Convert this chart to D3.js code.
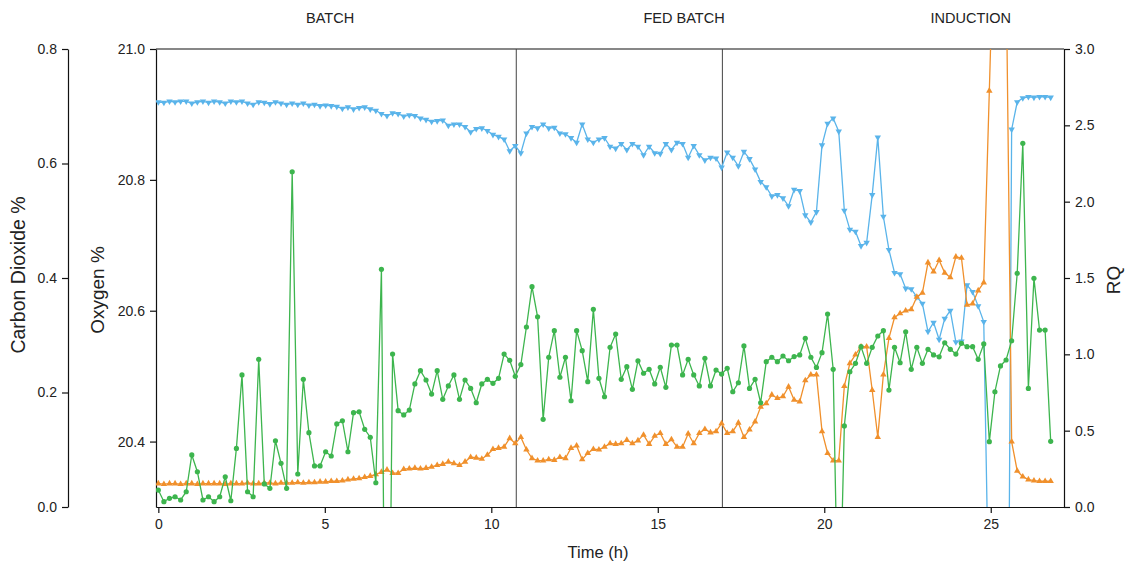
<!DOCTYPE html>
<html>
<head>
<meta charset="utf-8">
<script src="https://cdn.jsdelivr.net/npm/d3@7"></script>
<style>
  body { margin: 0; background: #fff; }
  text { font-family: "Liberation Sans", Arial, sans-serif; fill: #222; }
</style>
</head>
<body>
<svg id="chart" width="1129" height="575"></svg>
<script>
// Off-gas record of a fermentation run, sampled roughly every 10 minutes.
const SAMPLE_STEP_H = 0.1675;

const oxygen = [
  20.919, 20.918, 20.920, 20.919, 20.920, 20.920, 20.917, 20.919, 20.920, 20.918,
  20.920, 20.919, 20.917, 20.920, 20.919, 20.920, 20.917, 20.915, 20.919, 20.918,
  20.916, 20.919, 20.917, 20.915, 20.917, 20.915, 20.917, 20.914, 20.915, 20.913,
  20.914, 20.913, 20.912, 20.909, 20.911, 20.908, 20.910, 20.911, 20.908, 20.906,
  20.901, 20.898, 20.902, 20.901, 20.897, 20.899, 20.898, 20.894, 20.892, 20.889,
  20.890, 20.891, 20.883, 20.885, 20.885, 20.881, 20.873, 20.878, 20.879, 20.875,
  20.869, 20.866, 20.862, 20.844, 20.852, 20.841, 20.871, 20.881, 20.879, 20.885,
  20.879, 20.880, 20.871, 20.870, 20.864, 20.857, 20.885, 20.862, 20.857, 20.862,
  20.864, 20.851, 20.848, 20.855, 20.846, 20.855, 20.851, 20.838, 20.851, 20.841,
  20.840, 20.855, 20.846, 20.857, 20.855, 20.834, 20.852, 20.838, 20.830, 20.834,
  20.833, 20.819, 20.842, 20.834, 20.821, 20.843, 20.832, 20.816, 20.797, 20.789,
  20.775, 20.777, 20.772, 20.760, 20.785, 20.783, 20.746, 20.735, 20.751, 20.853,
  20.886, 20.894, 20.874, 20.753, 20.724, 20.721, 20.699, 20.704, 20.777, 20.865,
  20.744, 20.693, 20.658, 20.656, 20.634, 20.633, 20.621, 20.611, 20.568, 20.582,
  20.556, 20.588, 20.600, 20.552, 20.553, 20.639, 20.629, 20.607, 20.583, 20.100,
  19.500, 19.400, 19.470, 20.877, 20.919, 20.925, 20.927, 20.926, 20.927, 20.927, 20.926
];

const carbonDioxide = [
  0.041, 0.040, 0.041, 0.041, 0.040, 0.041, 0.041, 0.040, 0.041, 0.041,
  0.041, 0.041, 0.040, 0.041, 0.041, 0.041, 0.042, 0.041, 0.041, 0.042,
  0.042, 0.041, 0.042, 0.042, 0.042, 0.043, 0.042, 0.043, 0.043, 0.044,
  0.044, 0.045, 0.045, 0.046, 0.048, 0.049, 0.050, 0.052, 0.054, 0.057,
  0.061, 0.065, 0.059, 0.059, 0.066, 0.067, 0.068, 0.067, 0.068, 0.070,
  0.073, 0.075, 0.079, 0.076, 0.073, 0.079, 0.087, 0.086, 0.084, 0.091,
  0.101, 0.103, 0.105, 0.120, 0.111, 0.122, 0.100, 0.085, 0.081, 0.081,
  0.083, 0.082, 0.087, 0.085, 0.103, 0.107, 0.083, 0.094, 0.101, 0.100,
  0.105, 0.111, 0.110, 0.111, 0.117, 0.111, 0.116, 0.126, 0.110, 0.124,
  0.129, 0.110, 0.118, 0.105, 0.105, 0.128, 0.111, 0.129, 0.136, 0.130,
  0.132, 0.146, 0.129, 0.132, 0.147, 0.122, 0.135, 0.149, 0.175, 0.181,
  0.196, 0.190, 0.193, 0.210, 0.187, 0.184, 0.221, 0.231, 0.231, 0.132,
  0.094, 0.081, 0.081, 0.211, 0.251, 0.266, 0.280, 0.280, 0.204, 0.122,
  0.231, 0.295, 0.331, 0.338, 0.343, 0.345, 0.367, 0.374, 0.427, 0.411,
  0.431, 0.409, 0.401, 0.437, 0.435, 0.353, 0.355, 0.378, 0.392, 0.727,
  1.070, 1.300, 0.950, 0.114, 0.063, 0.053, 0.048, 0.046, 0.045, 0.045, 0.045
];

const rq = [
  0.111, 0.035, 0.057, 0.067, 0.046, 0.100, 0.341, 0.231, 0.046, 0.067,
  0.035, 0.067, 0.198, 0.041, 0.384, 0.865, 0.100, 0.067, 0.967, 0.151,
  0.122, 0.434, 0.286, 0.122, 2.196, 0.216, 0.836, 0.487, 0.269, 0.269,
  0.362, 0.334, 0.544, 0.565, 0.362, 0.618, 0.624, 0.509, 0.457, 0.159,
  1.557, -2.600, 1.002, 0.631, 0.603, 0.635, 0.806, 0.893, 0.832, 0.740,
  0.893, 0.705, 0.793, 0.865, 0.705, 0.832, 0.777, 0.683, 0.806, 0.836,
  0.810, 0.843, 1.002, 0.961, 0.856, 0.933, 1.179, 1.443, 1.246, 0.574,
  0.981, 1.155, 0.850, 0.981, 0.696, 1.155, 1.024, 0.821, 1.295, 0.843,
  0.722, 1.046, 1.133, 0.836, 0.919, 0.771, 0.958, 0.876, 0.902, 0.806,
  0.915, 0.784, 1.061, 1.061, 0.865, 0.967, 0.865, 0.793, 0.974, 0.793,
  0.897, 0.871, 0.909, 0.755, 0.814, 1.055, 0.777, 0.836, 0.683, 0.952,
  0.981, 0.952, 0.989, 0.958, 0.985, 0.996, 1.105, 0.981, 0.914, 1.011,
  1.264, 0.902, -1.000, 0.531, 0.886, 0.941, 1.050, 0.941, 1.046, 1.120,
  1.155, 0.766, 1.046, 0.945, 1.148, 0.902, 1.046, 0.941, 1.033, 0.996,
  0.984, 1.076, 1.033, 1.002, 1.072, 1.050, 1.050, 0.967, 1.068, 0.428,
  0.755, 0.924, 0.963, 1.089, 1.531, 2.382, 0.777, 1.498, 1.159, 1.159, 0.430
];

// Phase boundaries (h) and phase names
const phaseBounds = [10.75, 16.94];
const phaseNames = ["BATCH", "FED BATCH", "INDUCTION"];

// Tick values
const timeTicks = [0, 5, 10, 15, 20, 25];
const co2Ticks = [0.0, 0.2, 0.4, 0.6, 0.8];
const o2Ticks = [20.4, 20.6, 20.8, 21.0];
const rqTicks = [0.0, 0.5, 1.0, 1.5, 2.0, 2.5, 3.0];

const colors = { o2: "#5ab4ea", co2: "#f0902c", rq: "#3db54e" };

const svg = d3.select("#chart");
const plot = { left: 156, right: 1064, top: 49, bottom: 507 };
const co2AxisX = 68;

const times = oxygen.map((_, i) => i * SAMPLE_STEP_H);

const x = d3.scaleLinear().domain([-0.07, 27.2]).range([plot.left, plot.right]);
const yO2 = d3.scaleLinear().domain([20.3, 21.0]).range([plot.bottom, plot.top]);
const yCO2 = d3.scaleLinear().domain([0, 0.8]).range([plot.bottom, plot.top]);
const yRQ = d3.scaleLinear().domain([0, 3]).range([plot.bottom, plot.top]);

function styleAxis(g) {
  g.attr("font-family", "Liberation Sans, Arial, sans-serif").attr("font-size", 14);
  g.selectAll("path.domain").attr("stroke", "#111").attr("stroke-width", 1.2);
  g.selectAll(".tick line").attr("stroke", "#111").attr("stroke-width", 1.2);
  g.selectAll(".tick text").attr("fill", "#222");
}

// Axes
svg.append("g")
  .attr("transform", `translate(0,${plot.bottom})`)
  .call(d3.axisBottom(x).tickValues(timeTicks).tickFormat(d3.format("d")).tickSize(6).tickSizeOuter(0).tickPadding(6))
  .call(styleAxis);

svg.append("g")
  .attr("transform", `translate(${plot.left},0)`)
  .call(d3.axisLeft(yO2).tickValues(o2Ticks).tickFormat(d3.format(".1f")).tickSize(6).tickSizeOuter(0).tickPadding(5))
  .call(styleAxis);

svg.append("g")
  .attr("transform", `translate(${co2AxisX},0)`)
  .call(d3.axisLeft(yCO2).tickValues(co2Ticks).tickFormat(d3.format(".1f")).tickSize(6).tickSizeOuter(0).tickPadding(5))
  .call(styleAxis);

svg.append("g")
  .attr("transform", `translate(${plot.right},0)`)
  .call(d3.axisRight(yRQ).tickValues(rqTicks).tickFormat(d3.format(".1f")).tickSize(6).tickSizeOuter(0).tickPadding(5))
  .call(styleAxis);

// Top frame line
svg.append("line")
  .attr("x1", plot.left).attr("x2", plot.right)
  .attr("y1", plot.top).attr("y2", plot.top)
  .attr("stroke", "#111").attr("stroke-width", 1.2);

// Phase separators
svg.selectAll("line.phase").data(phaseBounds).join("line")
  .attr("class", "phase")
  .attr("x1", d => x(d)).attr("x2", d => x(d))
  .attr("y1", plot.top).attr("y2", plot.bottom)
  .attr("stroke", "#444").attr("stroke-width", 1);

// Phase names
const phaseCenters = [5.16, 15.79, 24.4];
svg.selectAll("text.phase-name").data(phaseNames).join("text")
  .attr("class", "phase-name")
  .attr("x", (d, i) => x(phaseCenters[i]))
  .attr("y", 23)
  .attr("text-anchor", "middle")
  .attr("font-size", 14.5)
  .text(d => d);

// Axis titles
svg.append("text").attr("transform", "translate(25,275) rotate(-90)")
  .attr("text-anchor", "middle").attr("font-size", 19.5).text("Carbon Dioxide %");
svg.append("text").attr("transform", "translate(104,290) rotate(-90)")
  .attr("text-anchor", "middle").attr("font-size", 19).text("Oxygen %");
svg.append("text").attr("transform", "translate(1120,280) rotate(-90)")
  .attr("text-anchor", "middle").attr("font-size", 19).text("RQ");
svg.append("text").attr("x", 598).attr("y", 558)
  .attr("text-anchor", "middle").attr("font-size", 16.5).text("Time (h)");

// Plot clipping
svg.append("clipPath").attr("id", "plot-clip")
  .append("rect")
  .attr("x", plot.left).attr("y", plot.top)
  .attr("width", plot.right - plot.left).attr("height", plot.bottom - plot.top);

const layer = svg.append("g").attr("clip-path", "url(#plot-clip)");

function drawSeries(values, yScale, color, marker) {
  const pts = values.map((v, i) => [times[i], v]);
  const line = d3.line().x(d => x(d[0])).y(d => yScale(d[1]));
  const g = layer.append("g");
  g.append("path").datum(pts)
    .attr("d", line)
    .attr("fill", "none")
    .attr("stroke", color)
    .attr("stroke-width", 1.3);
  if (marker === "circle") {
    g.selectAll("circle").data(pts).join("circle")
      .attr("cx", d => x(d[0])).attr("cy", d => yScale(d[1]))
      .attr("r", 2.6).attr("fill", color);
  } else {
    const sym = d3.symbol().type(d3.symbolTriangle).size(18);
    g.selectAll("path.mk").data(pts).join("path")
      .attr("class", "mk")
      .attr("d", sym)
      .attr("transform", d => `translate(${x(d[0])},${yScale(d[1])})` + (marker === "down" ? " rotate(180)" : ""))
      .attr("fill", color);
  }
}

drawSeries(oxygen, yO2, colors.o2, "down");
drawSeries(carbonDioxide, yCO2, colors.co2, "up");
drawSeries(rq, yRQ, colors.rq, "circle");
</script>
</body>
</html>
